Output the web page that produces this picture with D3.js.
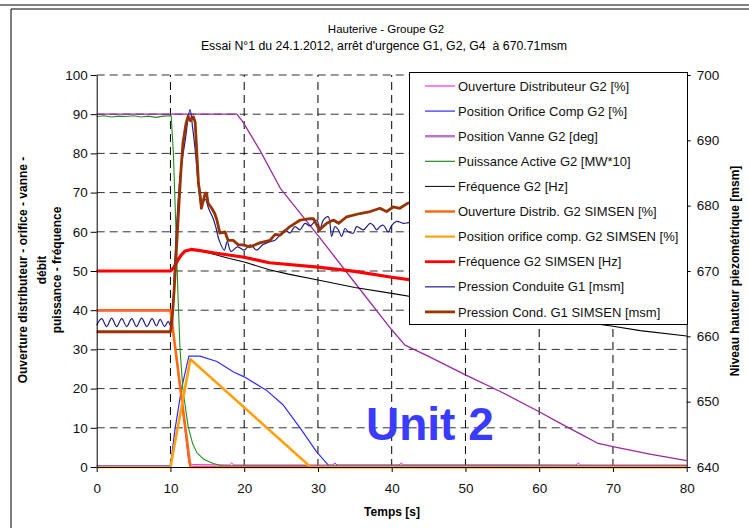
<!DOCTYPE html>
<meta charset="utf-8">
<style>
    body { margin: 0; background: #fff; }
    svg { font-family: "Liberation Sans", Arial, sans-serif; background: #fff; }
    .axis text { font-size: 13.5px; fill: #111; }
    .axis path, .axis line { stroke: #000; }
</style>
<body>
<svg width="749" height="528"></svg>
<script src="https://cdn.jsdelivr.net/npm/d3@7/dist/d3.min.js"></script>
<script>
// series, [temps s, valeur]
var ouvDistrib = [[0,39.8],[10,39.8],[10.3,36],[12.5,1],[13,0.6],[18,0.5],[18.3,1],[18.6,0.5],[32,0.5],[32.3,1],[32.6,0.5],[41,0.5],[41.3,1],[41.6,0.5],[65,0.5],[65.3,1],[65.6,0.5],[80,0.5]];
var posOrifice = [[0,0.3],[10,0.3],[10.6,9.4],[11.5,20],[12.5,28.3],[14,28.3],[16.3,26.9],[18.5,24.3],[20,23],[23,19.6],[25.3,15.8],[27.6,9.9],[29.8,3.9],[31.4,0.5],[80,0.3]];
var posVanne = [[0,90],[19,90],[19.8,88.1],[22.1,80.9],[24.9,71.1],[30,59.1],[35,47],[40,35],[41.8,31.1],[45,28.2],[50,23.5],[55,19],[60,14.1],[63,11],[66,8],[68,6],[70,5.2],[75,3.3],[80,1.6]];
var puissance = [[0,89.4],[1,89.6],[2,89.3],[3,89.5],[4,89.4],[5,89.6],[6,89.3],[7,89.5],[8,89.2],[9,89.5],[10.1,89.6],[10.4,80],[10.7,63],[11,45],[11.3,30],[11.7,19.6],[12.4,10.3],[13,6],[13.6,3.6],[14.5,2],[15.8,0.9],[17,0.3],[80,0.3]];
var frequence = [[0,50],[10,50],[10.5,50.8],[11,52.5],[11.5,54],[12,55],[12.8,55.5],[14,55.2],[16,54.2],[18,53.2],[20,52.3],[23.4,50.3],[26,49.2],[30,47.7],[35,45.8],[40,44.3],[43.8,43.1],[50,41.2],[60,38.5],[70,35.9],[73.7,34.8],[80,33.4]];
var ouvSimsen = [[0,40],[10,40],[12.7,0],[80,0]];
var orificeSimsen = [[0,0],[10,0],[12.7,27.5],[29,0],[80,0]];
var freqSimsen = [[0,50],[10,50],[10.5,51],[11,52.8],[11.5,54.2],[12,55.1],[12.8,55.5],[14,55.2],[16,54.6],[20,53.5],[23.4,52.1],[30,51],[35,49.9],[40,48.4],[43.8,47.4],[50,45.7],[60,43.6],[70,41.6],[80,39.6]];
// pressions en msm (axe de droite)
var pressionG1 = [[0,661.7],[0.67,662.7],[1.35,661.5],[2.03,662.8],[2.7,661.5],[3.39,662.7],[4.07,661.5],[4.75,662.7],[5.4,661.5],[6.1,662.8],[6.8,661.5],[7.5,662.7],[8.1,661.6],[8.6,662.6],[9.2,661.5],[9.7,662.3],[10,661.6],
    [10.3,664],[10.6,671.7],[11.3,684.4],[12,690],[12.65,694.7],[13,692],[13.4,688],[13.8,683],[14.2,680],[14.7,681],[15.2,679.5],[15.8,678],[16.2,676.5],[16.6,674.7],[17.3,673.2],[17.7,674.5],[18.2,673],[19.1,673.7],[20,673.2],[20.8,674],[21.7,673.2],[22.5,674],[23.5,674.5],
    [24.18,674.7],[24.85,675.5],[25.53,676.3],[26.2,675.8],[26.89,676.8],[27.57,676.3],[28.24,677.3],[28.92,676.9],[29.83,677.8],[30.28,676.5],[30.73,677.8],[31.4,678.3],[31.86,675.3],[32.31,676.8],[32.76,676.3],[33.22,675.3],[33.67,676.5],[34.12,676],[34.8,675.8],[35.25,676.8],[36.15,676.3],[37.06,677.3],[37.5,677],[37.96,676.3],[38.41,676.8],[38.86,677],[39.54,676],[40,677],[40.68,677.6],[41.57,677.3],[42.25,677.4],
    [45,678],[50,678.8],[55,679.5],[60,680.1],[65,680.7],[70,681.2],[75,681.6],[80,681.9]];
var pressionSimsen = [[0,660.7],[10,660.7],[10.2,662.2],[10.5,667],[11,677.2],[11.4,685],[11.7,689.6],[12.1,692.5],[12.4,693.7],[12.7,693],[13.1,693.6],[13.35,692.8],[13.8,683.4],[14,681.9],[14.2,679.6],[14.7,681.9],[14.9,681.9],[15.1,680.4],[15.6,679.6],[16,678.8],[16.3,677.8],[16.7,675.8],[17.4,676],[17.8,674.7],[18.5,674.7],[19.2,674],[19.8,674],[20.8,673.7],[22.1,674.3],[23.5,674.7],[24.2,675.6],[24.9,675.5],[26.2,676.8],[27.6,677.8],[28.9,678],[29.4,678],[30.2,676.3],[31.2,677.3],[32.1,677.8],[32.8,677.3],[33.9,678.3],[35.7,678.8],[37.1,679.1],[38.4,679.6],[39.3,679.1],[40.2,679.8],[41.1,679.6],[42.2,680.4],[50,680.9],[60,681.3],[70,681.6],[80,681.9]];

var legendLabels = ["Ouverture Distributeur G2 [%]", "Position Orifice Comp G2 [%]", "Position Vanne G2 [deg]",
    "Puissance Active G2 [MW*10]", "Fréquence G2 [Hz]", "Ouverture Distrib. G2 SIMSEN [%]",
    "Position orifice comp. G2 SIMSEN [%]", "Fréquence G2 SIMSEN [Hz]", "Pression Conduite G1 [msm]",
    "Pression Cond. G1 SIMSEN [msm]"];
var xTicks = [0, 10, 20, 30, 40, 50, 60, 70, 80];
var yTicks = [0, 10, 20, 30, 40, 50, 60, 70, 80, 90, 100];
var y2Ticks = [640, 650, 660, 670, 680, 690, 700];

var svg = d3.select("svg");

var x = d3.scaleLinear().domain([0, 80]).range([96.7, 686.7]),
    y = d3.scaleLinear().domain([0, 100]).range([467, 75]),
    y2 = d3.scaleLinear().domain([640, 700]).range([467, 75]);

var series = [
    { data: ouvDistrib, axis: y, color: "#ff00ff", w: 1, lw: 1 },
    { data: posOrifice, axis: y, color: "#2d2dff", w: 1.2, lw: 1.2 },
    { data: posVanne, axis: y, color: "#9a2a9e", w: 1.3, lw: 2.5, lcolor: "#b777c4" },
    { data: puissance, axis: y, color: "#1f8f1f", w: 1.1, lw: 1.2 },
    { data: frequence, axis: y, color: "#000", w: 1.1, lw: 1 },
    { data: ouvSimsen, axis: y, color: "#ff6a10", w: 2.6, lw: 2.5 },
    { data: orificeSimsen, axis: y, color: "#ffa010", w: 2.6, lw: 2.2 },
    { data: freqSimsen, axis: y, color: "#ff0000", w: 3.2, lw: 2.8 },
    { data: pressionG1, axis: y2, color: "#1c1c90", w: 1.2, lw: 1.5, lcolor: "#4a4aa8", smooth: true },
    { data: pressionSimsen, axis: y2, color: "#993300", w: 2.8, lw: 2.8 }
];

// cadre du graphique
svg.append("line").attr("x1", 0).attr("x2", 749).attr("y1", 5).attr("y2", 5).attr("stroke", "#000");
svg.append("line").attr("x1", 11).attr("x2", 749).attr("y1", 9).attr("y2", 9).attr("stroke", "#000");
svg.append("line").attr("x1", 11).attr("x2", 11).attr("y1", 9).attr("y2", 528).attr("stroke", "#000");

// titres
svg.append("text").attr("x", 386).attr("y", 33).attr("text-anchor", "middle")
    .style("font-size", "11.5px").text("Hauterive - Groupe G2");
svg.append("text").attr("x", 384).attr("y", 50).attr("text-anchor", "middle")
    .style("font-size", "12.3px").attr("xml:space", "preserve")
    .text("Essai N°1 du 24.1.2012, arrêt d'urgence G1, G2, G4  à 670.71msm");

// grille
var grid = svg.append("g");
grid.selectAll(".hg").data(yTicks.slice(1)).enter().append("line")
    .attr("x1", x(0)).attr("x2", x(80))
    .attr("y1", function (d) { return y(d); }).attr("y2", function (d) { return y(d); })
    .attr("stroke", "#333").attr("stroke-dasharray", "8,5");
grid.selectAll(".vg").data(xTicks.slice(1, -1)).enter().append("line")
    .attr("x1", function (d) { return x(d); }).attr("x2", function (d) { return x(d); })
    .attr("y1", y(0)).attr("y2", y(100))
    .attr("stroke", "#000").attr("stroke-dasharray", "8,5");

// courbes
var plot = svg.append("g");
series.forEach(function (s) {
    var line = d3.line()
        .curve(s.smooth ? d3.curveCatmullRom : d3.curveLinear)
        .x(function (d) { return x(d[0]); })
        .y(function (d) { return s.axis(d[1]); });
    plot.append("path").datum(s.data)
        .attr("d", line)
        .attr("fill", "none")
        .attr("stroke", s.color)
        .attr("stroke-width", s.w)
        .attr("stroke-linejoin", "round");
});

// axes
svg.append("g").attr("class", "axis")
    .attr("transform", "translate(" + x(0) + ",0)")
    .call(d3.axisLeft(y).tickValues(yTicks).tickSize(6).tickSizeOuter(0).tickPadding(3));
svg.append("g").attr("class", "axis")
    .attr("transform", "translate(0," + y(0) + ")")
    .call(d3.axisBottom(x).tickValues(xTicks).tickSize(5).tickSizeOuter(0).tickPadding(11));
var ax2 = svg.append("g").attr("class", "axis")
    .attr("transform", "translate(" + x(80) + ",0)")
    .call(d3.axisRight(y2).tickValues(y2Ticks).tickSize(4).tickSizeOuter(0).tickPadding(6));
ax2.selectAll("path, line").attr("stroke", "#444");

// titres des axes
svg.append("text").attr("x", 392).attr("y", 516).attr("text-anchor", "middle")
    .style("font-size", "12px").style("font-weight", "bold").text("Temps [s]");
var leftTitle = ["Ouverture distributeur - orifice - vanne -", "débit", "puissance - fréquence"];
var leftX = [23, 42, 57];
leftTitle.forEach(function (t, i) {
    svg.append("text")
        .attr("transform", "translate(" + leftX[i] + ",270) rotate(-90)")
        .attr("text-anchor", "middle").attr("dy", "0.35em")
        .style("font-size", "12px").style("font-weight", "bold").text(t);
});
svg.append("text")
    .attr("transform", "translate(735,271) rotate(-90)")
    .attr("text-anchor", "middle").attr("dy", "0.35em")
    .style("font-size", "12px").style("font-weight", "bold")
    .text("Niveau hauteur piezométrique [msm]");

// légende
var legend = svg.append("g");
legend.append("rect").attr("x", 409.5).attr("y", 72.5).attr("width", 278).attr("height", 252)
    .attr("fill", "#fff").attr("stroke", "#000");
series.forEach(function (s, i) {
    var ly = 86 + i * 25.1;
    legend.append("line").attr("x1", 425).attr("x2", 455).attr("y1", ly).attr("y2", ly)
        .attr("stroke", s.lcolor || s.color).attr("stroke-width", s.lw);
    legend.append("text").attr("x", 458).attr("y", ly).attr("dy", "0.36em")
        .style("font-size", "13px").style("fill", "#111").text(legendLabels[i]);
});

svg.append("text").attr("x", 366).attr("y", 440)
    .style("font-size", "46px").style("font-weight", "bold").style("fill", "#3b3bfb")
    .text("Unit 2");
</script>
</body>
